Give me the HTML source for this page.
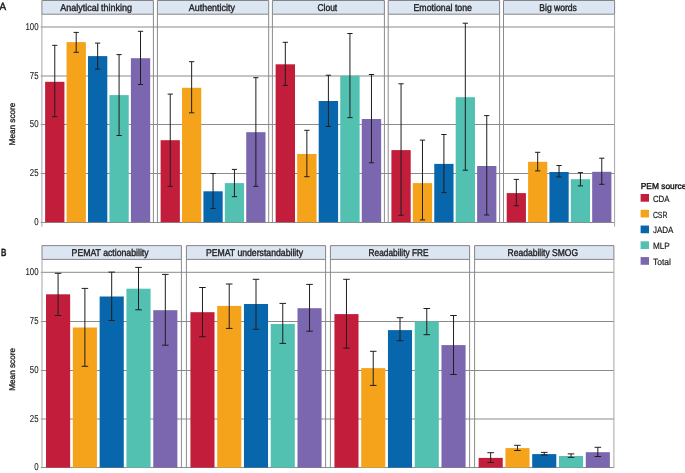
<!DOCTYPE html><html><head><meta charset="utf-8"><style>
html,body{margin:0;padding:0;background:#fff;}svg{display:block;will-change:transform;}
text{font-family:"Liberation Sans",sans-serif;fill:#1a1a1a;text-rendering:geometricPrecision;}
.st{font-size:9.9px;font-weight:normal;fill:#222;stroke:#222;stroke-width:0.38px;}
.yt{font-size:10.0px;fill:#1a1a1a;stroke:#1a1a1a;stroke-width:0.1px;}
.yl{font-size:8.4px;fill:#1a1a1a;stroke:#1a1a1a;stroke-width:0.3px;}
.lg{font-size:9px;fill:#1a1a1a;stroke:#1a1a1a;stroke-width:0.18px;}
.pl{font-size:10.5px;font-weight:bold;fill:#1a1a1a;stroke:#1a1a1a;stroke-width:0.3px;}
</style></head><body>
<svg width="685" height="473" viewBox="0 0 685 473">
<rect width="685" height="473" fill="#fff"/>
<line x1="40.70" y1="27.00" x2="614.60" y2="27.00" stroke="#8B8B8B" stroke-width="1"/>
<line x1="40.70" y1="76.00" x2="614.60" y2="76.00" stroke="#8B8B8B" stroke-width="1"/>
<line x1="40.70" y1="124.50" x2="614.60" y2="124.50" stroke="#8B8B8B" stroke-width="1"/>
<line x1="40.70" y1="173.50" x2="614.60" y2="173.50" stroke="#8B8B8B" stroke-width="1"/>
<line x1="40.70" y1="222.50" x2="614.60" y2="222.50" stroke="#8B8B8B" stroke-width="1"/>
<rect x="45.12" y="81.80" width="19.30" height="140.40" fill="#C21E3C"/>
<rect x="66.56" y="42.10" width="19.30" height="180.10" fill="#F6A31C"/>
<rect x="88.00" y="56.10" width="19.30" height="166.10" fill="#0867AC"/>
<rect x="109.44" y="95.10" width="19.30" height="127.10" fill="#52C1B1"/>
<rect x="130.89" y="58.20" width="19.30" height="164.00" fill="#7B67AF"/>
<line x1="41.90" y1="14.20" x2="41.90" y2="222.20" stroke="#A5A5A5" stroke-width="1"/>
<line x1="153.40" y1="14.20" x2="153.40" y2="222.20" stroke="#8A8A8A" stroke-width="1"/>
<rect x="41.90" y="0.50" width="111.50" height="13.70" fill="#DCE5F2"/>
<path d="M41.90 14.20V0.50H153.40V14.20Z" fill="none" stroke="#858585" stroke-width="1"/>
<text x="60.30" y="10.90" class="st" textLength="71.70" lengthAdjust="spacingAndGlyphs">Analytical thinking</text>
<path d="M52.14 45.30H57.39M54.77 45.30V116.70M52.14 116.70H57.39" stroke="#1E1E1E" stroke-width="1" fill="none"/>
<path d="M73.58 32.40H78.83M76.21 32.40V52.30M73.58 52.30H78.83" stroke="#1E1E1E" stroke-width="1" fill="none"/>
<path d="M95.02 43.10H100.28M97.65 43.10V69.10M95.02 69.10H100.28" stroke="#1E1E1E" stroke-width="1" fill="none"/>
<path d="M116.47 54.60H121.72M119.09 54.60V135.50M116.47 135.50H121.72" stroke="#1E1E1E" stroke-width="1" fill="none"/>
<path d="M137.91 31.30H143.16M140.53 31.30V84.50M137.91 84.50H143.16" stroke="#1E1E1E" stroke-width="1" fill="none"/>
<rect x="160.61" y="140.20" width="19.26" height="82.00" fill="#C21E3C"/>
<rect x="182.01" y="87.80" width="19.26" height="134.40" fill="#F6A31C"/>
<rect x="203.42" y="191.30" width="19.26" height="30.90" fill="#0867AC"/>
<rect x="224.82" y="183.10" width="19.26" height="39.10" fill="#52C1B1"/>
<rect x="246.23" y="132.20" width="19.26" height="90.00" fill="#7B67AF"/>
<line x1="157.40" y1="14.20" x2="157.40" y2="222.20" stroke="#8A8A8A" stroke-width="1"/>
<line x1="268.70" y1="14.20" x2="268.70" y2="222.20" stroke="#8A8A8A" stroke-width="1"/>
<rect x="157.40" y="0.50" width="111.30" height="13.70" fill="#DCE5F2"/>
<path d="M157.40 14.20V0.50H268.70V14.20Z" fill="none" stroke="#858585" stroke-width="1"/>
<text x="188.80" y="10.90" class="st" textLength="46.10" lengthAdjust="spacingAndGlyphs">Authenticity</text>
<path d="M167.62 94.10H172.86M170.24 94.10V186.30M167.62 186.30H172.86" stroke="#1E1E1E" stroke-width="1" fill="none"/>
<path d="M189.02 61.70H194.27M191.65 61.70V112.80M189.02 112.80H194.27" stroke="#1E1E1E" stroke-width="1" fill="none"/>
<path d="M210.43 173.50H215.67M213.05 173.50V208.50M210.43 208.50H215.67" stroke="#1E1E1E" stroke-width="1" fill="none"/>
<path d="M231.83 169.40H237.08M234.45 169.40V196.70M231.83 196.70H237.08" stroke="#1E1E1E" stroke-width="1" fill="none"/>
<path d="M253.24 77.70H258.48M255.86 77.70V186.30M253.24 186.30H258.48" stroke="#1E1E1E" stroke-width="1" fill="none"/>
<rect x="275.63" y="64.30" width="19.38" height="157.90" fill="#C21E3C"/>
<rect x="297.17" y="154.00" width="19.38" height="68.20" fill="#F6A31C"/>
<rect x="318.71" y="101.00" width="19.38" height="121.20" fill="#0867AC"/>
<rect x="340.25" y="75.70" width="19.38" height="146.50" fill="#52C1B1"/>
<rect x="361.78" y="119.00" width="19.38" height="103.20" fill="#7B67AF"/>
<line x1="272.40" y1="14.20" x2="272.40" y2="222.20" stroke="#8A8A8A" stroke-width="1"/>
<line x1="384.40" y1="14.20" x2="384.40" y2="222.20" stroke="#8A8A8A" stroke-width="1"/>
<rect x="272.40" y="0.50" width="112.00" height="13.70" fill="#DCE5F2"/>
<path d="M272.40 14.20V0.50H384.40V14.20Z" fill="none" stroke="#858585" stroke-width="1"/>
<text x="317.50" y="10.90" class="st" textLength="19.70" lengthAdjust="spacingAndGlyphs">Clout</text>
<path d="M282.68 42.30H287.96M285.32 42.30V85.40M282.68 85.40H287.96" stroke="#1E1E1E" stroke-width="1" fill="none"/>
<path d="M304.22 130.30H309.50M306.86 130.30V176.70M304.22 176.70H309.50" stroke="#1E1E1E" stroke-width="1" fill="none"/>
<path d="M325.76 75.20H331.04M328.40 75.20V126.50M325.76 126.50H331.04" stroke="#1E1E1E" stroke-width="1" fill="none"/>
<path d="M347.30 33.50H352.58M349.94 33.50V117.60M347.30 117.60H352.58" stroke="#1E1E1E" stroke-width="1" fill="none"/>
<path d="M368.84 74.50H374.12M371.48 74.50V162.80M368.84 162.80H374.12" stroke="#1E1E1E" stroke-width="1" fill="none"/>
<rect x="391.41" y="150.10" width="19.28" height="72.10" fill="#C21E3C"/>
<rect x="412.84" y="183.10" width="19.28" height="39.10" fill="#F6A31C"/>
<rect x="434.26" y="163.90" width="19.28" height="58.30" fill="#0867AC"/>
<rect x="455.68" y="97.20" width="19.28" height="125.00" fill="#52C1B1"/>
<rect x="477.11" y="166.00" width="19.28" height="56.20" fill="#7B67AF"/>
<line x1="388.20" y1="14.20" x2="388.20" y2="222.20" stroke="#8A8A8A" stroke-width="1"/>
<line x1="499.60" y1="14.20" x2="499.60" y2="222.20" stroke="#8A8A8A" stroke-width="1"/>
<rect x="388.20" y="0.50" width="111.40" height="13.70" fill="#DCE5F2"/>
<path d="M388.20 14.20V0.50H499.60V14.20Z" fill="none" stroke="#858585" stroke-width="1"/>
<text x="413.50" y="10.90" class="st" textLength="58.50" lengthAdjust="spacingAndGlyphs">Emotional tone</text>
<path d="M398.43 83.80H403.68M401.05 83.80V215.30M398.43 215.30H403.68" stroke="#1E1E1E" stroke-width="1" fill="none"/>
<path d="M419.85 140.10H425.10M422.48 140.10V219.90M419.85 219.90H425.10" stroke="#1E1E1E" stroke-width="1" fill="none"/>
<path d="M441.28 134.50H446.52M443.90 134.50V192.60M441.28 192.60H446.52" stroke="#1E1E1E" stroke-width="1" fill="none"/>
<path d="M462.70 23.20H467.95M465.32 23.20V170.20M462.70 170.20H467.95" stroke="#1E1E1E" stroke-width="1" fill="none"/>
<path d="M484.12 115.60H489.37M486.75 115.60V215.00M484.12 215.00H489.37" stroke="#1E1E1E" stroke-width="1" fill="none"/>
<rect x="506.70" y="193.10" width="19.23" height="29.10" fill="#C21E3C"/>
<rect x="528.07" y="161.80" width="19.23" height="60.40" fill="#F6A31C"/>
<rect x="549.44" y="172.00" width="19.23" height="50.20" fill="#0867AC"/>
<rect x="570.80" y="179.20" width="19.23" height="43.00" fill="#52C1B1"/>
<rect x="592.17" y="171.80" width="19.23" height="50.40" fill="#7B67AF"/>
<line x1="503.50" y1="14.20" x2="503.50" y2="222.20" stroke="#8A8A8A" stroke-width="1"/>
<line x1="614.60" y1="14.20" x2="614.60" y2="222.20" stroke="#A5A5A5" stroke-width="1"/>
<rect x="503.50" y="0.50" width="111.10" height="13.70" fill="#DCE5F2"/>
<path d="M503.50 14.20V0.50H614.60V14.20Z" fill="none" stroke="#858585" stroke-width="1"/>
<text x="539.30" y="10.90" class="st" textLength="37.60" lengthAdjust="spacingAndGlyphs">Big words</text>
<path d="M513.70 179.40H518.94M516.32 179.40V205.80M513.70 205.80H518.94" stroke="#1E1E1E" stroke-width="1" fill="none"/>
<path d="M535.07 152.30H540.30M537.68 152.30V170.90M535.07 170.90H540.30" stroke="#1E1E1E" stroke-width="1" fill="none"/>
<path d="M556.43 165.50H561.67M559.05 165.50V176.90M556.43 176.90H561.67" stroke="#1E1E1E" stroke-width="1" fill="none"/>
<path d="M577.80 172.60H583.03M580.42 172.60V185.90M577.80 185.90H583.03" stroke="#1E1E1E" stroke-width="1" fill="none"/>
<path d="M599.16 158.20H604.40M601.78 158.20V184.30M599.16 184.30H604.40" stroke="#1E1E1E" stroke-width="1" fill="none"/>
<line x1="41.90" y1="222.20" x2="41.90" y2="226.70" stroke="#A5A5A5" stroke-width="1"/>
<line x1="614.60" y1="222.20" x2="614.60" y2="226.70" stroke="#A5A5A5" stroke-width="1"/>
<text class="yt" text-anchor="end" transform="translate(38.5 29.85) scale(0.78 1)">100</text>
<text class="yt" text-anchor="end" transform="translate(38.5 78.85) scale(0.78 1)">75</text>
<text class="yt" text-anchor="end" transform="translate(38.5 127.35) scale(0.78 1)">50</text>
<text class="yt" text-anchor="end" transform="translate(38.5 176.35) scale(0.78 1)">25</text>
<text class="yt" text-anchor="end" transform="translate(38.5 225.35) scale(0.78 1)">0</text>
<text x="14.6" y="124.00" class="yl" text-anchor="middle" textLength="42.8" lengthAdjust="spacingAndGlyphs" transform="rotate(-90 14.6 124.00)">Mean score</text>
<line x1="40.80" y1="272.30" x2="613.90" y2="272.30" stroke="#8B8B8B" stroke-width="1"/>
<line x1="40.80" y1="321.50" x2="613.90" y2="321.50" stroke="#8B8B8B" stroke-width="1"/>
<line x1="40.80" y1="370.50" x2="613.90" y2="370.50" stroke="#8B8B8B" stroke-width="1"/>
<line x1="40.80" y1="419.00" x2="613.90" y2="419.00" stroke="#8B8B8B" stroke-width="1"/>
<line x1="40.80" y1="467.50" x2="613.90" y2="467.50" stroke="#8B8B8B" stroke-width="1"/>
<rect x="46.02" y="294.30" width="24.13" height="173.30" fill="#C21E3C"/>
<rect x="72.83" y="327.50" width="24.13" height="140.10" fill="#F6A31C"/>
<rect x="99.64" y="296.50" width="24.13" height="171.10" fill="#0867AC"/>
<rect x="126.44" y="288.70" width="24.13" height="178.90" fill="#52C1B1"/>
<rect x="153.25" y="310.20" width="24.13" height="157.40" fill="#7B67AF"/>
<line x1="42.00" y1="259.40" x2="42.00" y2="467.60" stroke="#A5A5A5" stroke-width="1"/>
<line x1="181.40" y1="259.40" x2="181.40" y2="467.60" stroke="#8A8A8A" stroke-width="1"/>
<rect x="42.00" y="245.60" width="139.40" height="13.80" fill="#DCE5F2"/>
<path d="M42.00 259.40V245.60H181.40V259.40Z" fill="none" stroke="#858585" stroke-width="1"/>
<text x="71.60" y="256.30" class="st" textLength="77.00" lengthAdjust="spacingAndGlyphs">PEMAT actionability</text>
<path d="M54.80 273.30H61.37M58.08 273.30V315.50M54.80 315.50H61.37" stroke="#1E1E1E" stroke-width="1" fill="none"/>
<path d="M81.61 288.40H88.18M84.89 288.40V366.30M81.61 366.30H88.18" stroke="#1E1E1E" stroke-width="1" fill="none"/>
<path d="M108.42 272.10H114.98M111.70 272.10V320.40M108.42 320.40H114.98" stroke="#1E1E1E" stroke-width="1" fill="none"/>
<path d="M135.22 267.40H141.79M138.51 267.40V309.80M135.22 309.80H141.79" stroke="#1E1E1E" stroke-width="1" fill="none"/>
<path d="M162.03 274.40H168.60M165.32 274.40V345.20M162.03 345.20H168.60" stroke="#1E1E1E" stroke-width="1" fill="none"/>
<rect x="190.42" y="312.20" width="24.09" height="155.40" fill="#C21E3C"/>
<rect x="217.18" y="305.90" width="24.09" height="161.70" fill="#F6A31C"/>
<rect x="243.95" y="304.00" width="24.09" height="163.60" fill="#0867AC"/>
<rect x="270.72" y="324.00" width="24.09" height="143.60" fill="#52C1B1"/>
<rect x="297.49" y="308.20" width="24.09" height="159.40" fill="#7B67AF"/>
<line x1="186.40" y1="259.40" x2="186.40" y2="467.60" stroke="#8A8A8A" stroke-width="1"/>
<line x1="325.60" y1="259.40" x2="325.60" y2="467.60" stroke="#8A8A8A" stroke-width="1"/>
<rect x="186.40" y="245.60" width="139.20" height="13.80" fill="#DCE5F2"/>
<path d="M186.40 259.40V245.60H325.60V259.40Z" fill="none" stroke="#858585" stroke-width="1"/>
<text x="205.90" y="256.30" class="st" textLength="97.10" lengthAdjust="spacingAndGlyphs">PEMAT understandability</text>
<path d="M199.18 287.50H205.74M202.46 287.50V336.70M199.18 336.70H205.74" stroke="#1E1E1E" stroke-width="1" fill="none"/>
<path d="M225.95 284.00H232.51M229.23 284.00V328.40M225.95 328.40H232.51" stroke="#1E1E1E" stroke-width="1" fill="none"/>
<path d="M252.72 279.30H259.28M256.00 279.30V329.30M252.72 329.30H259.28" stroke="#1E1E1E" stroke-width="1" fill="none"/>
<path d="M279.49 303.40H286.05M282.77 303.40V343.40M279.49 343.40H286.05" stroke="#1E1E1E" stroke-width="1" fill="none"/>
<path d="M306.26 284.40H312.82M309.54 284.40V331.20M306.26 331.20H312.82" stroke="#1E1E1E" stroke-width="1" fill="none"/>
<rect x="334.42" y="314.10" width="24.09" height="153.50" fill="#C21E3C"/>
<rect x="361.18" y="368.10" width="24.09" height="99.50" fill="#F6A31C"/>
<rect x="387.95" y="330.10" width="24.09" height="137.50" fill="#0867AC"/>
<rect x="414.72" y="321.40" width="24.09" height="146.20" fill="#52C1B1"/>
<rect x="441.49" y="345.10" width="24.09" height="122.50" fill="#7B67AF"/>
<line x1="330.40" y1="259.40" x2="330.40" y2="467.60" stroke="#8A8A8A" stroke-width="1"/>
<line x1="469.60" y1="259.40" x2="469.60" y2="467.60" stroke="#8A8A8A" stroke-width="1"/>
<rect x="330.40" y="245.60" width="139.20" height="13.80" fill="#DCE5F2"/>
<path d="M330.40 259.40V245.60H469.60V259.40Z" fill="none" stroke="#858585" stroke-width="1"/>
<text x="368.60" y="256.30" class="st" textLength="59.90" lengthAdjust="spacingAndGlyphs">Readability FRE</text>
<path d="M343.18 279.30H349.74M346.46 279.30V348.10M343.18 348.10H349.74" stroke="#1E1E1E" stroke-width="1" fill="none"/>
<path d="M369.95 351.30H376.51M373.23 351.30V385.40M369.95 385.40H376.51" stroke="#1E1E1E" stroke-width="1" fill="none"/>
<path d="M396.72 317.70H403.28M400.00 317.70V340.70M396.72 340.70H403.28" stroke="#1E1E1E" stroke-width="1" fill="none"/>
<path d="M423.49 308.50H430.05M426.77 308.50V334.70M423.49 334.70H430.05" stroke="#1E1E1E" stroke-width="1" fill="none"/>
<path d="M450.26 315.50H456.82M453.54 315.50V374.50M450.26 374.50H456.82" stroke="#1E1E1E" stroke-width="1" fill="none"/>
<rect x="478.62" y="457.90" width="24.11" height="9.70" fill="#C21E3C"/>
<rect x="505.41" y="448.10" width="24.11" height="19.50" fill="#F6A31C"/>
<rect x="532.20" y="454.10" width="24.11" height="13.50" fill="#0867AC"/>
<rect x="558.98" y="456.00" width="24.11" height="11.60" fill="#52C1B1"/>
<rect x="585.77" y="452.20" width="24.11" height="15.40" fill="#7B67AF"/>
<line x1="474.60" y1="259.40" x2="474.60" y2="467.60" stroke="#8A8A8A" stroke-width="1"/>
<line x1="613.90" y1="259.40" x2="613.90" y2="467.60" stroke="#A5A5A5" stroke-width="1"/>
<rect x="474.60" y="245.60" width="139.30" height="13.80" fill="#DCE5F2"/>
<path d="M474.60 259.40V245.60H613.90V259.40Z" fill="none" stroke="#858585" stroke-width="1"/>
<text x="507.60" y="256.30" class="st" textLength="70.50" lengthAdjust="spacingAndGlyphs">Readability SMOG</text>
<path d="M487.39 452.70H493.95M490.67 452.70V462.50M487.39 462.50H493.95" stroke="#1E1E1E" stroke-width="1" fill="none"/>
<path d="M514.18 445.30H520.74M517.46 445.30V450.50M514.18 450.50H520.74" stroke="#1E1E1E" stroke-width="1" fill="none"/>
<path d="M540.97 452.40H547.53M544.25 452.40V455.00M540.97 455.00H547.53" stroke="#1E1E1E" stroke-width="1" fill="none"/>
<path d="M567.76 453.90H574.32M571.04 453.90V457.40M567.76 457.40H574.32" stroke="#1E1E1E" stroke-width="1" fill="none"/>
<path d="M594.55 447.30H601.11M597.83 447.30V456.50M594.55 456.50H601.11" stroke="#1E1E1E" stroke-width="1" fill="none"/>
<line x1="42.00" y1="467.60" x2="42.00" y2="468.10" stroke="#A5A5A5" stroke-width="1"/>
<line x1="613.90" y1="467.60" x2="613.90" y2="468.10" stroke="#A5A5A5" stroke-width="1"/>
<text class="yt" text-anchor="end" transform="translate(38.5 275.15) scale(0.78 1)">100</text>
<text class="yt" text-anchor="end" transform="translate(38.5 324.35) scale(0.78 1)">75</text>
<text class="yt" text-anchor="end" transform="translate(38.5 373.35) scale(0.78 1)">50</text>
<text class="yt" text-anchor="end" transform="translate(38.5 421.85) scale(0.78 1)">25</text>
<text class="yt" text-anchor="end" transform="translate(38.5 470.35) scale(0.78 1)">0</text>
<text x="14.6" y="369.40" class="yl" text-anchor="middle" textLength="42.8" lengthAdjust="spacingAndGlyphs" transform="rotate(-90 14.6 369.40)">Mean score</text>
<text x="-0.4" y="9.6" class="pl" style="font-weight:normal;stroke:#1a1a1a;stroke-width:0.5px" textLength="6.6" lengthAdjust="spacingAndGlyphs">A</text>
<text x="1.0" y="255.8" class="pl" textLength="5.4" lengthAdjust="spacingAndGlyphs">B</text>
<text x="640.8" y="188.5" class="lg" style="stroke-width:0.42px;font-size:8.6px" textLength="45.5" lengthAdjust="spacingAndGlyphs">PEM source</text>
<rect x="640.6" y="194.00" width="8.4" height="7.7" fill="#C21E3C"/>
<text x="652.9" y="201.85" class="lg" textLength="16.60" lengthAdjust="spacingAndGlyphs">CDA</text>
<rect x="640.6" y="209.77" width="8.4" height="7.7" fill="#F6A31C"/>
<text x="652.9" y="217.62" class="lg" textLength="14.50" lengthAdjust="spacingAndGlyphs">CSR</text>
<rect x="640.6" y="225.54" width="8.4" height="7.7" fill="#0867AC"/>
<text x="652.9" y="233.39" class="lg" textLength="20.50" lengthAdjust="spacingAndGlyphs">JADA</text>
<rect x="640.6" y="241.31" width="8.4" height="7.7" fill="#52C1B1"/>
<text x="652.9" y="249.16" class="lg" textLength="16.80" lengthAdjust="spacingAndGlyphs">MLP</text>
<rect x="640.6" y="257.08" width="8.4" height="7.7" fill="#7B67AF"/>
<text x="652.9" y="264.93" class="lg" textLength="18.00" lengthAdjust="spacingAndGlyphs">Total</text>
</svg></body></html>
